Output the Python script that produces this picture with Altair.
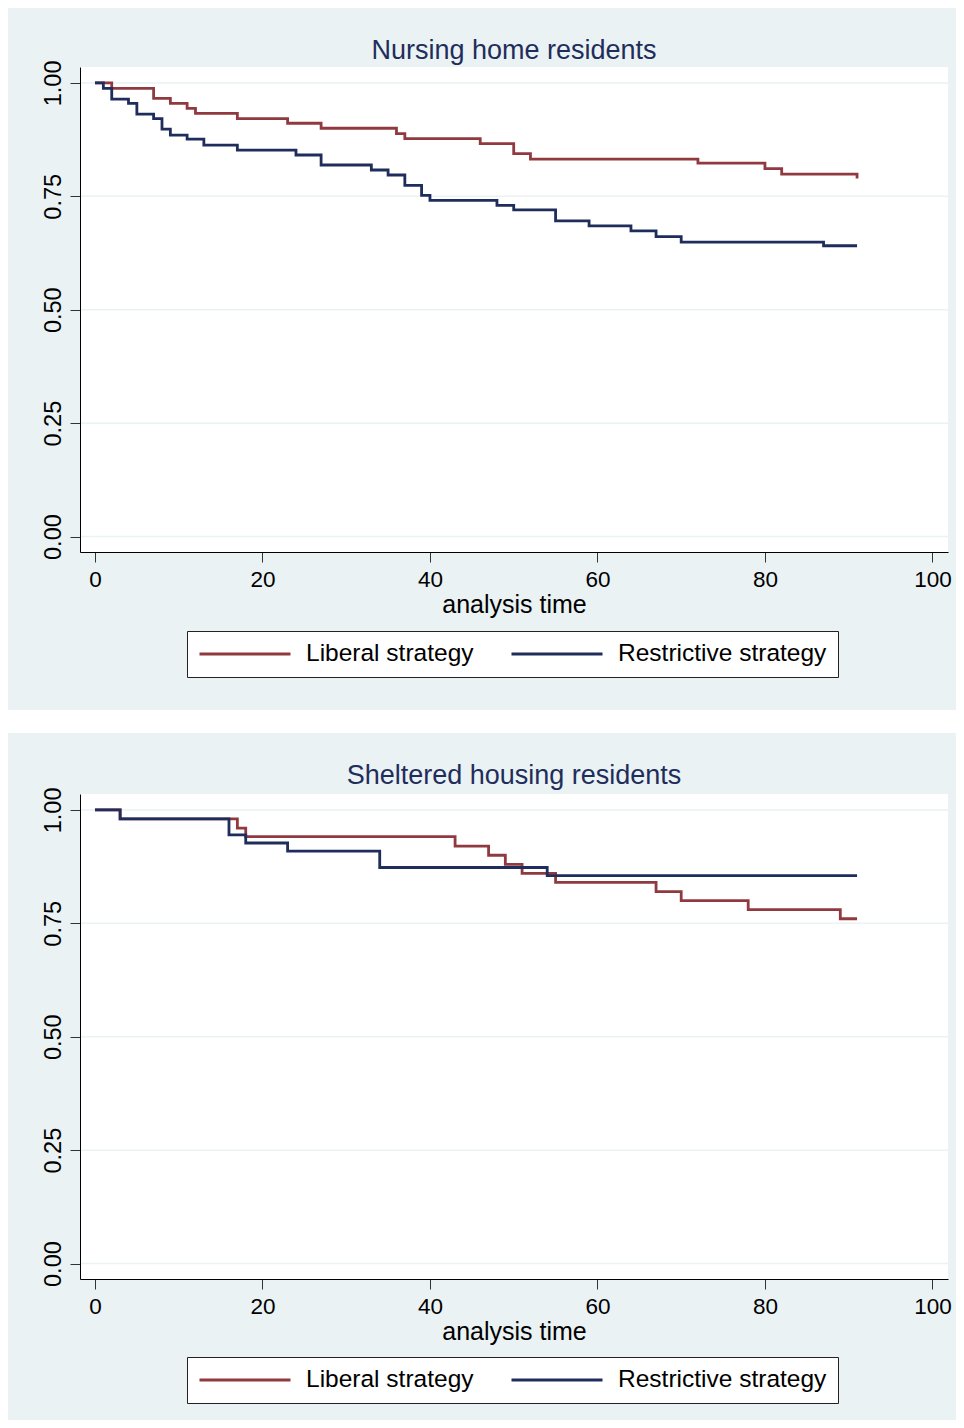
import altair as alt
import pandas as pd

# ---- data ----
x_ticks = [0, 20, 40, 60, 80, 100]
y_ticks = [0, 0.25, 0.5, 0.75, 1.0]
strategies = ["Liberal strategy", "Restrictive strategy"]
colors = ["#903A40", "#1F2D5C"]

# Nursing home residents
nh_lib_t = [0, 2, 7, 9, 11, 12, 17, 23, 27, 36, 37, 46, 50, 52, 72, 80, 82, 91]
nh_lib_s = [1.0, 0.988, 0.966, 0.955, 0.944, 0.933, 0.921, 0.911, 0.900, 0.888,
            0.877, 0.866, 0.844, 0.832, 0.823, 0.811, 0.799, 0.789]
nh_res_t = [0, 1, 2, 4, 5, 7, 8, 9, 11, 13, 17, 24, 27, 33, 35, 37, 39, 40, 48,
            50, 55, 59, 64, 67, 70, 87, 91]
nh_res_s = [1.0, 0.988, 0.964, 0.955, 0.931, 0.921, 0.898, 0.885, 0.876, 0.863,
            0.852, 0.841, 0.819, 0.808, 0.797, 0.774, 0.752, 0.741, 0.730, 0.720,
            0.696, 0.685, 0.674, 0.661, 0.649, 0.641, 0.641]

# Sheltered housing residents
sh_lib_t = [0, 3, 17, 18, 43, 47, 49, 51, 55, 67, 70, 78, 89, 91]
sh_lib_s = [1.0, 0.98, 0.96, 0.941, 0.92, 0.90, 0.88, 0.86, 0.84, 0.82, 0.80,
            0.78, 0.76, 0.76]
sh_res_t = [0, 3, 16, 18, 23, 34, 54, 91]
sh_res_s = [1.0, 0.98, 0.945, 0.927, 0.909, 0.873, 0.855, 0.855]

titles = ["Nursing home residents", "Sheltered housing residents"]

# ---- layout / style ----
W, H = 868, 485
X_DOM = [-1.79, 101.86]
Y_DOM = [-0.034, 1.035]
FONT = "Liberation Sans"
BG = "#EAF2F3"
TITLE_COLOR = "#1F2D5C"


def km_df(t, s, name):
    return pd.DataFrame({"time": t, "surv": s, "strategy": name})


def panel(title, lib_t, lib_s, res_t, res_s, bg_top, bg_bottom, title_y, leg_y):
    df = pd.concat([km_df(lib_t, lib_s, strategies[0]),
                    km_df(res_t, res_s, strategies[1])], ignore_index=True)
    one = pd.DataFrame({"k": [0]})
    grid_df = pd.DataFrame({"surv": y_ticks})

    xscale = alt.Scale(domain=X_DOM, nice=False, zero=False)
    yscale = alt.Scale(domain=Y_DOM, nice=False, zero=False)
    yaxis = alt.Axis(values=y_ticks, format=".2f", title=None, grid=False,
                     domainColor="black", domainWidth=1,
                     tickColor="#333333", tickSize=10, tickWidth=1,
                     labelFont=FONT, labelFontSize=23.5, labelColor="black",
                     labelAngle=270, labelAlign="center",
                     labelBaseline="alphabetic", labelPadding=10,
                     labelFlush=False, labelOverlap=False, zindex=1)
    xaxis = alt.Axis(values=x_ticks, title="analysis time", grid=False,
                     domainColor="black", domainWidth=1,
                     tickColor="#333333", tickSize=10, tickWidth=1,
                     labelFont=FONT, labelFontSize=22.5, labelColor="black",
                     labelPadding=6, labelFlush=False, labelOverlap=False,
                     titleFont=FONT, titleFontSize=25, titleFontWeight="normal",
                     titleColor="black", titlePadding=2, zindex=1)

    bg = alt.Chart(one).mark_rect(color=BG).encode(
        x=alt.value(-72), x2=alt.value(876),
        y=alt.value(bg_top), y2=alt.value(bg_bottom))
    plotbg = alt.Chart(one).mark_rect(color="white").encode(
        x=alt.value(0), x2=alt.value(W), y=alt.value(0), y2=alt.value(H))
    grid = alt.Chart(grid_df).mark_rule(color=BG, strokeWidth=1.5).encode(
        y=alt.Y("surv:Q", scale=yscale, axis=yaxis),
        x=alt.value(0), x2=alt.value(W))

    color = alt.Color("strategy:N",
                      scale=alt.Scale(domain=strategies, range=colors),
                      legend=alt.Legend(title=None, orient="none", legendX=107,
                                        legendY=leg_y, direction="horizontal",
                                        fillColor="white", strokeColor="#222222",
                                        padding=11, symbolType="stroke",
                                        symbolSize=8281, symbolStrokeWidth=3,
                                        clipHeight=24,
                                        labelFont=FONT, labelFontSize=24.5,
                                        labelColor="black", labelLimit=400,
                                        labelOffset=14, columnPadding=36))
    base = alt.Chart(df).mark_line(interpolate="step-after", strokeWidth=2.8).encode(
        x=alt.X("time:Q", scale=xscale, axis=xaxis),
        y=alt.Y("surv:Q", scale=yscale, axis=yaxis),
        color=color)
    red = base.transform_filter(alt.datum.strategy == strategies[0])
    blue = base.transform_filter(alt.datum.strategy == strategies[1])

    ttl = alt.Chart(one).mark_text(text=title, font=FONT, fontSize=27,
                                   color=TITLE_COLOR, align="center",
                                   baseline="alphabetic").encode(
        x=alt.value(W / 2), y=alt.value(title_y))

    return alt.layer(bg, plotbg, grid, red, blue, ttl).properties(width=W, height=H)


top = panel(titles[0], nh_lib_t, nh_lib_s, nh_res_t, nh_res_s, -59, 643, -8, 564)
bottom = panel(titles[1], sh_lib_t, sh_lib_s, sh_res_t, sh_res_s, -61, 626, -10, 563)

chart = alt.vconcat(top, bottom, spacing=23).resolve_scale(
    color="independent").resolve_legend(color="independent").properties(
    padding=0).configure_view(strokeWidth=0)

chart.save("out.html", embed_options={"renderer": "svg", "actions": False})
